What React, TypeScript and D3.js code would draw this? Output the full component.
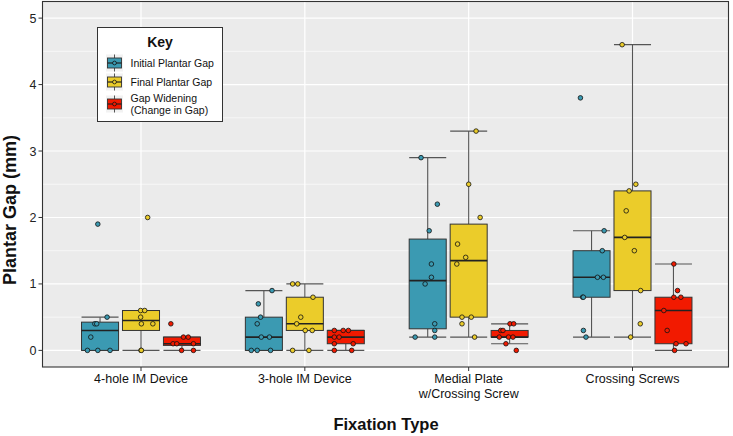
import React from "react";
import * as d3 from "d3";

const categories = ["4-hole IM Device", "3-hole IM Device", "Medial Plate\nw/Crossing Screw", "Crossing Screws"];
const seriesNames = ["Initial Plantar Gap", "Final Plantar Gap", "Gap Widening\n(Change in Gap)"];
const seriesColors = ["#3B9AB2", "#EBCC2A", "#F21A00"];
const yTicks = [0, 1, 2, 3, 4, 5];

// values per category (mm)
const initialGap = [
  [1.9, 0.5, 0.4, 0.4, 0.2, 0, 0, 0],
  [0.9, 0.7, 0.5, 0.4, 0.2, 0.2, 0, 0, 0],
  [2.9, 2.2, 1.8, 1.3, 1.1, 1.0, 0.4, 0.3, 0.2, 0.2],
  [3.8, 1.8, 1.5, 1.1, 1.1, 0.8, 0.8, 0.3, 0.2],
];
const finalGap = [
  [2.0, 0.6, 0.6, 0.5, 0.4, 0.4, 0, 0],
  [1.0, 1.0, 0.8, 0.5, 0.4, 0.3, 0.3, 0, 0],
  [3.3, 2.5, 2.0, 1.6, 1.4, 1.3, 0.5, 0.5, 0.4, 0.2],
  [4.6, 2.5, 2.4, 2.1, 1.7, 1.5, 0.9, 0.4, 0.2],
];
const gapWidening = [
  [0.4, 0.2, 0.2, 0.1, 0.1, 0.1, 0, 0],
  [0.3, 0.3, 0.3, 0.2, 0.2, 0.1, 0.1, 0, 0],
  [0.4, 0.4, 0.3, 0.3, 0.2, 0.2, 0.2, 0.1, 0],
  [1.3, 0.9, 0.8, 0.8, 0.6, 0.3, 0.1, 0.1, 0],
];
// horizontal jitter of each point, as a fraction of the box width
const initialJitter = [
  [-0.06, 0.19, -0.14, -0.09, -0.25, -0.34, -0.06, 0.27],
  [0.22, -0.15, -0.09, -0.18, -0.07, 0.15, -0.34, -0.18, 0.18],
  [-0.18, 0.26, 0.04, 0.1, 0.1, -0.07, 0.19, 0.19, -0.34, 0.19],
  [-0.3, 0.34, 0.29, 0.16, 0.32, -0.24, -0.22, -0.22, -0.15],
];
const finalJitter = [
  [0.18, -0.01, 0.1, -0.01, 0.01, 0.32, 0, 0.01],
  [-0.33, -0.19, 0.22, -0.11, -0.22, 0.01, 0.2, -0.33, 0.11],
  [0.2, 0, 0.31, -0.3, -0.08, -0.32, -0.18, 0.07, -0.18, 0.16],
  [-0.28, 0.09, -0.09, -0.17, -0.21, 0.05, 0.22, 0.21, -0.05],
];
const wideningJitter = [
  [-0.3, 0.04, 0.17, -0.24, -0.14, 0.31, -0.01, 0.31],
  [-0.31, -0.07, 0.07, -0.31, -0.18, -0.31, 0.2, -0.31, 0.16],
  [0.01, 0.11, -0.24, -0.18, -0.28, -0.03, 0.09, -0.1, 0.18],
  [0.01, 0.11, 0.01, 0.2, -0.26, -0.17, 0.07, 0.34, 0.03],
];

const seriesValues = [initialGap, finalGap, gapWidening];
const seriesJitter = [initialJitter, finalJitter, wideningJitter];

const W = 733;
const H = 436;
const panel = { left: 42.5, right: 728.5, top: 1.5, bottom: 367 };
const FONT = "'Liberation Sans', Arial, Helvetica, sans-serif";

function boxStats(vals: number[]) {
  const s = vals.slice().sort(d3.ascending);
  const q1 = d3.quantile(s, 0.25)!;
  const med = d3.quantile(s, 0.5)!;
  const q3 = d3.quantile(s, 0.75)!;
  const iqr = q3 - q1;
  const lo = d3.min(s.filter((v) => v >= q1 - 1.5 * iqr - 1e-9))!;
  const hi = d3.max(s.filter((v) => v <= q3 + 1.5 * iqr + 1e-9))!;
  return { q1, med, q3, lo, hi };
}

export default function App() {
  const y = d3.scaleLinear().domain([-0.25, 5.25]).range([panel.bottom, panel.top]);
  const x = d3.scaleLinear().domain([0, categories.length - 1]).range([141, 632.5]);
  const step = x(1) - x(0);
  const dodge = d3.scaleLinear().domain([0, 2]).range([-0.25 * step, 0.25 * step]);
  const boxW = 0.226 * step;
  const minorTicks = d3.range(0.5, 5, 1);

  return (
    <svg width={W} height={H} style={{ position: "absolute", left: 0, top: 0, background: "#fff" }} fontFamily={FONT}>
      <rect x={panel.left} y={panel.top} width={panel.right - panel.left} height={panel.bottom - panel.top} fill="#EBEBEB" />
      {minorTicks.map((t) => (
        <line key={"mn" + t} x1={panel.left} x2={panel.right} y1={y(t)} y2={y(t)} stroke="#fff" strokeWidth={0.6} />
      ))}
      {yTicks.map((t) => (
        <line key={"mj" + t} x1={panel.left} x2={panel.right} y1={y(t)} y2={y(t)} stroke="#fff" strokeWidth={1.2} />
      ))}
      {categories.map((c, i) => (
        <line key={"vx" + i} x1={x(i)} x2={x(i)} y1={panel.top} y2={panel.bottom} stroke="#fff" strokeWidth={1.2} />
      ))}

      {categories.map((c, ci) =>
        seriesValues.map((sv, si) => {
          const vals = sv[ci];
          const st = boxStats(vals);
          const cx = x(ci) + dodge(si);
          const color = seriesColors[si];
          return (
            <g key={`b${ci}-${si}`}>
              <line x1={cx} x2={cx} y1={y(st.hi)} y2={y(st.q3)} stroke="#555" strokeWidth={1.1} />
              <line x1={cx} x2={cx} y1={y(st.q1)} y2={y(st.lo)} stroke="#555" strokeWidth={1.1} />
              <line x1={cx - boxW / 2} x2={cx + boxW / 2} y1={y(st.hi)} y2={y(st.hi)} stroke="#555" strokeWidth={1.2} />
              <line x1={cx - boxW / 2} x2={cx + boxW / 2} y1={y(st.lo)} y2={y(st.lo)} stroke="#555" strokeWidth={1.2} />
              <rect x={cx - boxW / 2} y={y(st.q3)} width={boxW} height={Math.max(0.5, y(st.q1) - y(st.q3))} fill={color} stroke="#333" strokeWidth={1} />
              <line x1={cx - boxW / 2} x2={cx + boxW / 2} y1={y(st.med)} y2={y(st.med)} stroke="#222" strokeWidth={1.6} />
            </g>
          );
        })
      )}
      {categories.map((c, ci) =>
        seriesValues.map((sv, si) =>
          sv[ci].map((v, k) => (
            <circle
              key={`p${ci}-${si}-${k}`}
              cx={x(ci) + dodge(si) + seriesJitter[si][ci][k] * boxW}
              cy={y(v)}
              r={2.3}
              fill={seriesColors[si]}
              stroke="#111"
              strokeWidth={0.8}
            />
          ))
        )
      )}

      <rect x={panel.left} y={panel.top} width={panel.right - panel.left} height={panel.bottom - panel.top} fill="none" stroke="#333" strokeWidth={1.1} />

      {yTicks.map((t) => (
        <g key={"yt" + t}>
          <line x1={panel.left - 4} x2={panel.left} y1={y(t)} y2={y(t)} stroke="#333" strokeWidth={1} />
          <text x={panel.left - 6} y={y(t)} dy="0.36em" textAnchor="end" fontSize={12.5} fill="#222">
            {t}
          </text>
        </g>
      ))}
      {categories.map((c, i) => (
        <g key={"xt" + i}>
          <line x1={x(i)} x2={x(i)} y1={panel.bottom} y2={panel.bottom + 4} stroke="#333" strokeWidth={1} />
          {c.split("\n").map((ln, li) => (
            <text key={li} x={x(i)} y={383 + li * 14.5} textAnchor="middle" fontSize={12.5} fill="#111">
              {ln}
            </text>
          ))}
        </g>
      ))}

      <text x={386} y={430} textAnchor="middle" fontSize={16.5} fontWeight="bold" fill="#111">
        Fixation Type
      </text>
      <text transform="translate(15.5,210) rotate(-90)" textAnchor="middle" fontSize={18} fontWeight="bold" fill="#111">
        Plantar Gap (mm)
      </text>

      <g>
        <rect x={97.5} y={27.5} width={125} height={94} fill="#fff" stroke="#333" strokeWidth={1} />
        <text x={160} y={46.5} textAnchor="middle" fontSize={14} fontWeight="bold" fill="#111">
          Key
        </text>
        {seriesNames.map((name, si) => {
          const cy = [63, 82, 104][si];
          const kx = 114.5;
          return (
            <g key={"lg" + si}>
              <rect x={kx - 8.5} y={cy - 8.5} width={17} height={17} fill="#F2F2F2" />
              <line x1={kx} x2={kx} y1={cy - 8.5} y2={cy + 8.5} stroke="#555" strokeWidth={1} />
              <rect x={kx - 7} y={cy - 5} width={14} height={10} fill={seriesColors[si]} stroke="#333" strokeWidth={0.9} />
              <line x1={kx - 7} x2={kx + 7} y1={cy} y2={cy} stroke="#222" strokeWidth={1.2} />
              <circle cx={kx} cy={cy} r={1.9} fill={seriesColors[si]} stroke="#111" strokeWidth={0.8} />
              {name.split("\n").map((ln, li, arr) => (
                <text
                  key={li}
                  x={130.5}
                  y={cy + (li - (arr.length - 1) / 2) * 12.3}
                  dy="0.36em"
                  fontSize={10.5}
                  fill="#111"
                >
                  {ln}
                </text>
              ))}
            </g>
          );
        })}
      </g>
    </svg>
  );
}
